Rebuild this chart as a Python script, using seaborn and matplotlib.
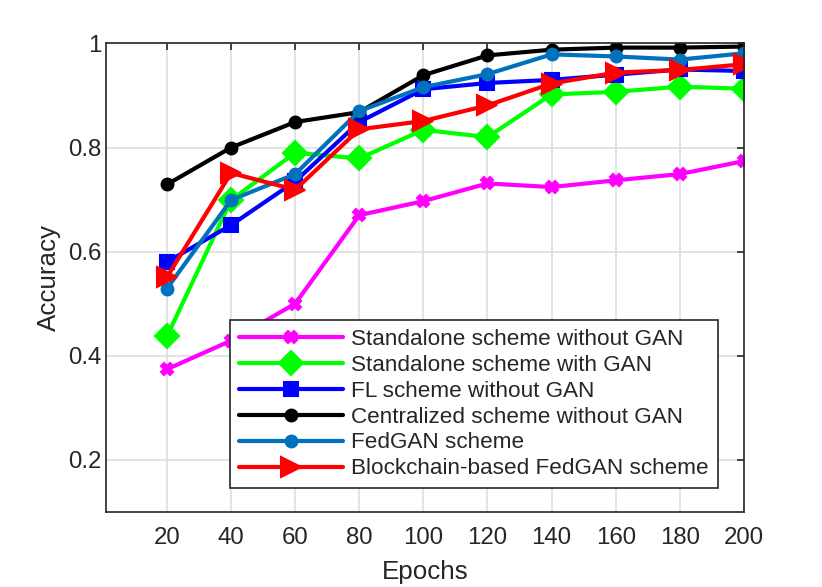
import matplotlib
matplotlib.use("Agg")
import matplotlib.pyplot as plt
import seaborn as sns
import pandas as pd

epochs = [20, 40, 60, 80, 100, 120, 140, 160, 180, 200]
standalone_no_gan = [0.374, 0.429, 0.500, 0.670, 0.697, 0.731, 0.724, 0.737, 0.749, 0.774]
standalone_gan = [0.437, 0.699, 0.790, 0.779, 0.834, 0.820, 0.902, 0.907, 0.917, 0.913]
fl_no_gan = [0.580, 0.651, 0.735, 0.849, 0.912, 0.924, 0.930, 0.940, 0.950, 0.947]
centralized = [0.729, 0.800, 0.849, 0.868, 0.939, 0.977, 0.988, 0.992, 0.992, 0.994]
fedgan = [0.529, 0.699, 0.749, 0.870, 0.916, 0.941, 0.979, 0.975, 0.969, 0.981]
blockchain_fedgan = [0.551, 0.751, 0.719, 0.835, 0.851, 0.881, 0.923, 0.944, 0.949, 0.960]

labels = ["Standalone scheme without GAN", "Standalone scheme with GAN",
          "FL scheme without GAN", "Centralized scheme without GAN",
          "FedGAN scheme", "Blockchain-based FedGAN scheme"]
series = [standalone_no_gan, standalone_gan, fl_no_gan, centralized, fedgan, blockchain_fedgan]
colors = ["#FF00FF", "#00FF00", "#0000FF", "#000000", "#0072BD", "#FF0000"]
markers = ["X", "D", "s", "o", "o", ">"]
msizes = [9, 12, 10, 8.5, 8.5, 15]

sns.set_style("white")
plt.rcParams['font.family'] = ['Liberation Sans', 'DejaVu Sans']

fig = plt.figure(figsize=(8.22, 5.87), dpi=100)
ax = fig.add_axes([0.129, 0.128, 0.776, 0.798])

for lab, vals, c, m, ms in zip(labels, series, colors, markers, msizes):
    df = pd.DataFrame({"Epochs": epochs, "Accuracy": vals})
    sns.lineplot(data=df, x="Epochs", y="Accuracy", ax=ax, color=c, marker=m,
                 markersize=ms, linewidth=3, markeredgecolor=c, markerfacecolor=c,
                 markeredgewidth=1.5, label=lab)

ax.set_xlim(1, 200)
ax.set_ylim(0.1, 1.0)
ax.set_xticks(epochs)
ax.set_xticklabels([str(e) for e in epochs])
yt = [0.2, 0.4, 0.6, 0.8, 1.0]
ax.set_yticks(yt)
ax.set_yticklabels(["0.2", "0.4", "0.6", "0.8", "1"])
ax.grid(True, color="#DEDEDE", linewidth=1.2)
ax.set_axisbelow(True)
for s in ax.spines.values():
    s.set_color("#262626")
    s.set_linewidth(1.2)
ax.tick_params(direction="in", length=5, width=1.2, colors="#262626",
               labelsize=17.3, top=True, right=True)
ax.tick_params(axis="x", pad=11)
ax.tick_params(axis="y", pad=3.5)
ax.set_xlabel("Epochs", fontsize=18.7, color="#262626", labelpad=8)
ax.set_ylabel("Accuracy", fontsize=18.7, color="#262626", labelpad=5)

leg = ax.legend(loc="lower left", bbox_to_anchor=(0.195, 0.05), borderaxespad=0,
                fontsize=16.2, handlelength=4.6, frameon=True, fancybox=False,
                framealpha=1, edgecolor="#262626", borderpad=0.4,
                labelspacing=0.22, handletextpad=0.36)
leg.get_frame().set_linewidth(1.2)

fig.savefig("out.png", dpi=100)
